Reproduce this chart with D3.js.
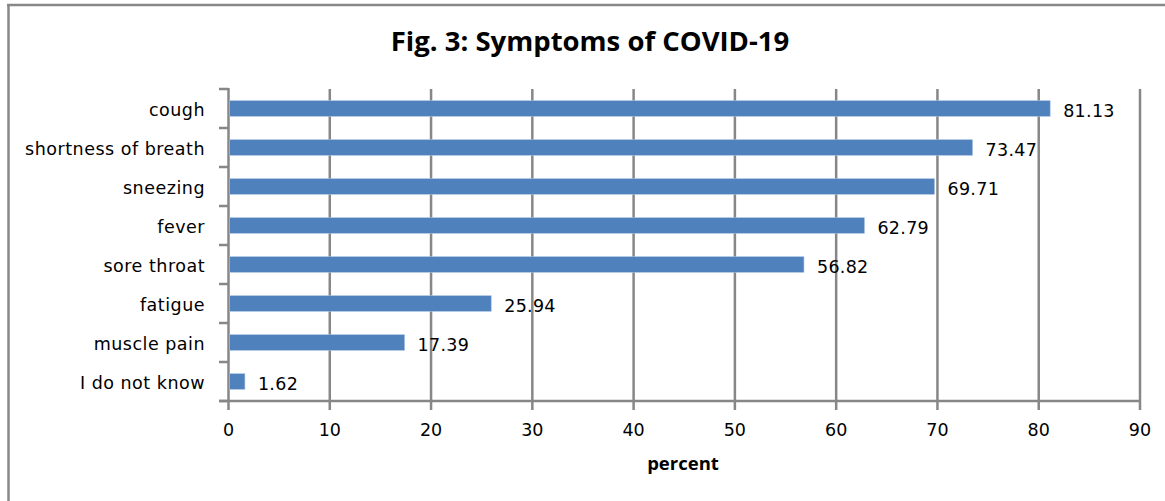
<!DOCTYPE html>
<html><head><meta charset="utf-8">
<script src="https://cdn.jsdelivr.net/npm/d3@7"></script>
<style>
html,body{margin:0;padding:0;background:#fff;}
svg{display:block;}
text{font-family:"DejaVu Sans",sans-serif;fill:#000;}
text.ttl{font-family:"Open Sans",sans-serif;font-weight:bold;}
</style></head>
<body>
<script>
const categories = ["cough","shortness of breath","sneezing","fever","sore throat","fatigue","muscle pain","I do not know"];
const values = [81.13,73.47,69.71,62.79,56.82,25.94,17.39,1.62];
const valueLabels = ["81.13","73.47","69.71","62.79","56.82","25.94","17.39","1.62"];
const xTicks = [0,10,20,30,40,50,60,70,80,90];
const title = "Fig. 3: Symptoms of COVID-19";
const xTitle = "percent";

const W = 1165, H = 501;
const svg = d3.select("body").append("svg").attr("width", W).attr("height", H);

// outer frame (left & top only visible)
svg.append("line").attr("x1",8.5).attr("x2",8.5).attr("y1",4).attr("y2",H).attr("stroke","#888").attr("stroke-width",2.5);
svg.append("line").attr("x1",7).attr("x2",W).attr("y1",5).attr("y2",5).attr("stroke","#888").attr("stroke-width",2.5);

const x = d3.scaleLinear().domain([0,90]).range([228.5,1140]);
const y = d3.scaleBand().domain(categories).range([89,401]).paddingInner(0.6).paddingOuter(0.3);

const grid = "#878787";
// gridlines
svg.append("g").selectAll("line").data(xTicks.slice(1)).join("line")
  .attr("x1",d=>x(d)).attr("x2",d=>x(d)).attr("y1",89).attr("y2",410)
  .attr("stroke",grid).attr("stroke-width",2.5);

// x axis line
svg.append("line").attr("x1",219).attr("x2",x(90)+1).attr("y1",401).attr("y2",401).attr("stroke",grid).attr("stroke-width",2.5);
// y axis line
svg.append("line").attr("x1",x(0)).attr("x2",x(0)).attr("y1",88).attr("y2",410).attr("stroke",grid).attr("stroke-width",2.5);
// y ticks (category boundaries)
const bounds = d3.range(categories.length+1).map(i=>89+i*(312/categories.length));
svg.append("g").selectAll("line").data(bounds).join("line")
  .attr("x1",219).attr("x2",x(0)).attr("y1",d=>d).attr("y2",d=>d)
  .attr("stroke",grid).attr("stroke-width",2.5);

// bars
svg.append("g").selectAll("rect").data(values).join("rect")
  .attr("x",x(0)+1).attr("y",(d,i)=>y(categories[i]))
  .attr("width",d=>x(d)-x(0)-1).attr("height",y.bandwidth())
  .attr("fill","#4f81bd").attr("stroke","#a7c0e0").attr("stroke-width",0.6);

// value labels
svg.append("g").selectAll("text").data(values).join("text")
  .attr("x",d=>x(d)+13).attr("y",(d,i)=>y(categories[i])+y.bandwidth()/2+8)
  .attr("font-size","17.5px").attr("letter-spacing","0.3px")
  .text((d,i)=>valueLabels[i]);

// category labels
svg.append("g").selectAll("text").data(categories).join("text")
  .attr("x",205).attr("y",d=>y(d)+y.bandwidth()/2+7)
  .attr("text-anchor","end").attr("font-size","17.5px").attr("letter-spacing","0.5px")
  .text(d=>d);

// x tick labels
svg.append("g").selectAll("text").data(xTicks).join("text")
  .attr("x",d=>x(d)).attr("y",436).attr("text-anchor","middle")
  .attr("font-size","17.5px").text(d=>d);

// axis title
svg.append("text").attr("class","ttl").attr("x",683).attr("y",470).attr("text-anchor","middle")
  .attr("font-size","18.5px").text(xTitle);

// chart title
svg.append("text").attr("class","ttl").attr("x",590).attr("y",51).attr("text-anchor","middle")
  .attr("font-size","27.5px").text(title);
</script>
</body></html>
